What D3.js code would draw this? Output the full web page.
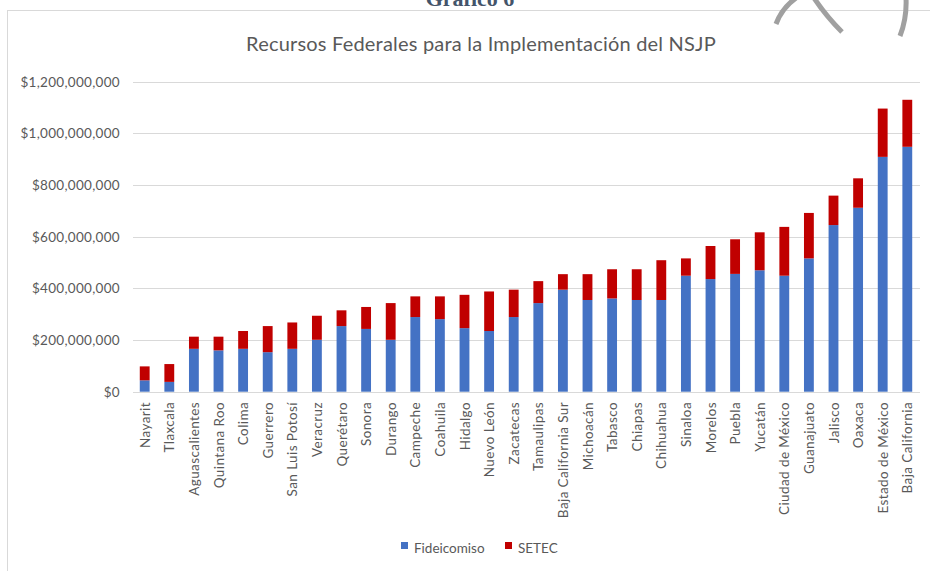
<!DOCTYPE html>
<html>
<head>
<meta charset="utf-8">
<script src="https://cdn.jsdelivr.net/npm/d3@7"></script>
<style>
  body { margin: 0; background: #fff; }
  svg { display: block; font-family: Lato, "Open Sans", sans-serif; }
</style>
</head>
<body>
<svg id="chart" width="930" height="571"></svg>
<script>
// data, millions of pesos
var estados = ["Nayarit", "Tlaxcala", "Aguascalientes", "Quintana Roo", "Colima", "Guerrero",
  "San Luis Potosí", "Veracruz", "Querétaro", "Sonora", "Durango", "Campeche", "Coahuila",
  "Hidalgo", "Nuevo León", "Zacatecas", "Tamaulipas", "Baja California Sur", "Michoacán",
  "Tabasco", "Chiapas", "Chihuahua", "Sinaloa", "Morelos", "Puebla", "Yucatán",
  "Ciudad de México", "Guanajuato", "Jalisco", "Oaxaca", "Estado de México", "Baja California"];
var fideicomiso = [44, 38, 166, 160, 166, 153, 166, 201, 254, 243, 201, 289, 281, 246, 235, 289,
  343, 395, 355, 361, 355, 355, 449, 436, 456, 470, 449, 516, 645, 712, 909, 948];
var setec = [54, 69, 47, 53, 69, 101, 102, 93, 61, 85, 142, 80, 88, 129, 153, 106,
  85, 60, 100, 113, 119, 154, 67, 128, 134, 147, 189, 176, 114, 114, 187, 182];
var yTicks = [0, 200, 400, 600, 800, 1000, 1200];
var series = ["Fideicomiso", "SETEC"];

var colors = { Fideicomiso: "#4472c4", SETEC: "#c00000" };
var textColor = "#595959";

var svg = d3.select("#chart");

var rows = estados.map(function (e, i) {
  return { estado: e, Fideicomiso: fideicomiso[i], SETEC: setec[i] };
});

var x = d3.scaleBand()
  .domain(estados)
  .range([132.4, 919.6])
  .paddingInner(0.6)
  .paddingOuter(0.3);

var y = d3.scaleLinear()
  .domain([0, 1200])
  .range([391.7, 81.7]);

// page header remnants (cut off at the top, as in the source page)
svg.append("text")
  .attr("x", 470).attr("y", 6)
  .attr("text-anchor", "middle")
  .style("font-family", "'Liberation Serif', serif")
  .style("font-weight", "bold")
  .style("font-size", "22px")
  .style("fill", "#44546a")
  .text("Gráfico 6");

// chart border
svg.append("rect")
  .attr("x", 7.5).attr("y", 10.5)
  .attr("width", 940).attr("height", 600)
  .attr("fill", "#fff")
  .attr("stroke", "#d9d9d9");

// title
svg.append("text")
  .attr("x", 481).attr("y", 51)
  .attr("text-anchor", "middle")
  .style("font-size", "20px")
  .style("letter-spacing", "0.2px")
  .style("fill", textColor)
  .text("Recursos Federales para la Implementación del NSJP");

// gridlines
svg.append("g")
  .selectAll("line")
  .data(yTicks)
  .join("line")
  .attr("x1", 133).attr("x2", 920)
  .attr("y1", function (d) { return Math.round(y(d)) + 0.5; })
  .attr("y2", function (d) { return Math.round(y(d)) + 0.5; })
  .attr("stroke", "#d9d9d9")
  .attr("stroke-width", 1);

// y labels
var fmt = d3.format(",");
svg.append("g")
  .selectAll("text")
  .data(yTicks)
  .join("text")
  .attr("x", 120)
  .attr("y", function (d) { return y(d) + 5; })
  .attr("text-anchor", "end")
  .style("font-size", "13.5px")
  .style("letter-spacing", "0.3px")
  .style("fill", textColor)
  .text(function (d) { return "$" + fmt(d * 1e6); });

// bars
var stacked = d3.stack().keys(series)(rows);
svg.append("g")
  .selectAll("g")
  .data(stacked)
  .join("g")
  .attr("fill", function (s) { return colors[s.key]; })
  .selectAll("rect")
  .data(function (s) { return s; })
  .join("rect")
  .attr("x", function (d) { return x(d.data.estado); })
  .attr("width", x.bandwidth())
  .attr("y", function (d) { return y(d[1]); })
  .attr("height", function (d) { return y(d[0]) - y(d[1]); });

// x labels
svg.append("g")
  .selectAll("text")
  .data(estados)
  .join("text")
  .attr("transform", function (d) {
    return "translate(" + (x(d) + x.bandwidth() / 2 + 5) + ",402) rotate(-90)";
  })
  .attr("text-anchor", "end")
  .style("font-size", "13.5px")
  .style("letter-spacing", "0.4px")
  .style("fill", textColor)
  .text(function (d) { return d; });

// legend
var legend = svg.append("g");
var legendX = [401, 505];
series.forEach(function (k, i) {
  legend.append("rect")
    .attr("x", legendX[i]).attr("y", 542)
    .attr("width", 7).attr("height", 7)
    .attr("fill", colors[k]);
  legend.append("text")
    .attr("x", legendX[i] + 13).attr("y", 553)
    .style("font-size", "13.5px")
    .style("fill", textColor)
    .text(k);
});

// watermark arcs at top right
var wm = svg.append("g")
  .attr("fill", "none")
  .attr("stroke", "#a0a0a0")
  .attr("stroke-width", 5);
wm.append("path").attr("d", "M776,24 Q782,8 796,-2");
wm.append("path").attr("d", "M814,-2 Q826,16 842,32");
wm.append("path").attr("d", "M906,-2 Q907,18 900,36");
</script>
</body>
</html>
